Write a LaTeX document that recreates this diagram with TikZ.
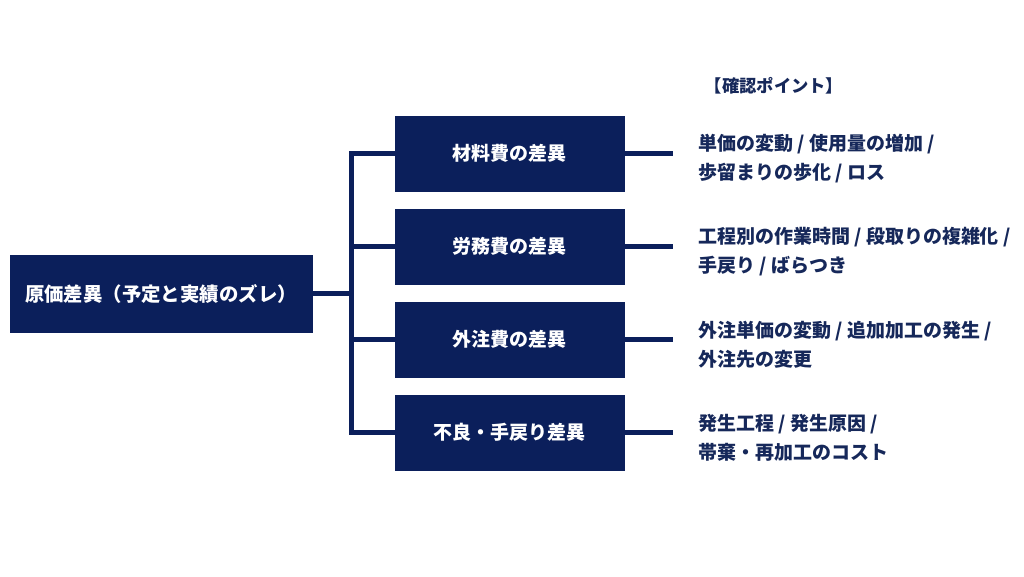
\documentclass[tikz,border=0pt]{standalone}
\usepackage{fontspec}
\setmainfont{Noto Sans CJK JP}
\usetikzlibrary{calc, positioning}
\definecolor{cNavy}{HTML}{0B1F5B}
\definecolor{cTexto}{HTML}{16285A}
\tikzset{
    caja/.style={draw=cNavy, fill=cNavy, text=white, align=center,
                 font=\fontsize{13.5}{16}\selectfont\bfseries, inner sep=2pt},
    raiz/.style={caja, minimum width=7.55cm, minimum height=1.925cm,
                 font=\fontsize{13.8}{16}\selectfont\bfseries},
    rama/.style={caja, minimum width=5.725cm, minimum height=1.875cm},
    lin/.style={line width=3.6pt, cNavy, line join=miter},
    punto/.style={text=cTexto, align=left, inner sep=0pt,
                  font=\fontsize{13.5}{20.6}\selectfont\bfseries},
    titulo/.style={text=cTexto, inner sep=0pt,
                   font=\fontsize{12.3}{14}\selectfont\bfseries},
}
\begin{document}
\begin{tikzpicture}[x=1cm, y=1cm]
\useasboundingbox (0,0) rectangle (25.6,14.4);

\node[raiz] (genka) at (4.025,7.06) {原価差異（予定と実績のズレ）};

% cuatro ramas de la diferencia
\node[rama] (b1) at (12.74,10.56) {材料費の差異};
\node[rama] (b2) at (12.74,8.24) {労務費の差異};
\node[rama] (b3) at (12.74,5.91) {外注費の差異};
\node[rama] (b4) at (12.74,3.59) {不良・手戻り差異};

% tronco comun
\coordinate (tronco) at (8.79,7.06);
\draw[lin] (genka.east) -- (tronco);
\draw[lin] (b1.west) -- (b1.west -| tronco) -- (b4.west -| tronco) -- (b4.west);
\draw[lin] (b2.west) -- (b2.west -| tronco);
\draw[lin] (b3.west) -- (b3.west -| tronco);
\foreach \i in {1,2,3,4}{\draw[lin] (b\i.east) -- ++(1.225,0) coordinate (s\i);}

% puntos a revisar
\node[titulo] (tit) at (19.35,12.25) {【確認ポイント】};
\node[punto, anchor=west] (p1) at (17.45,10.43) {単価の変動 / 使用量の増加 /\\歩留まりの歩化 / ロス};
\node[punto, anchor=west] (p2) at (17.45,8.11) {工程別の作業時間 / 段取りの複雑化 /\\手戻り / ばらつき};
\node[punto, anchor=west] (p3) at (17.45,5.78) {外注単価の変動 / 追加加工の発生 /\\外注先の変更};
\node[punto, anchor=west] (p4) at (17.45,3.46) {発生工程 / 発生原因 /\\帯棄・再加工のコスト};

\end{tikzpicture}
\end{document}
